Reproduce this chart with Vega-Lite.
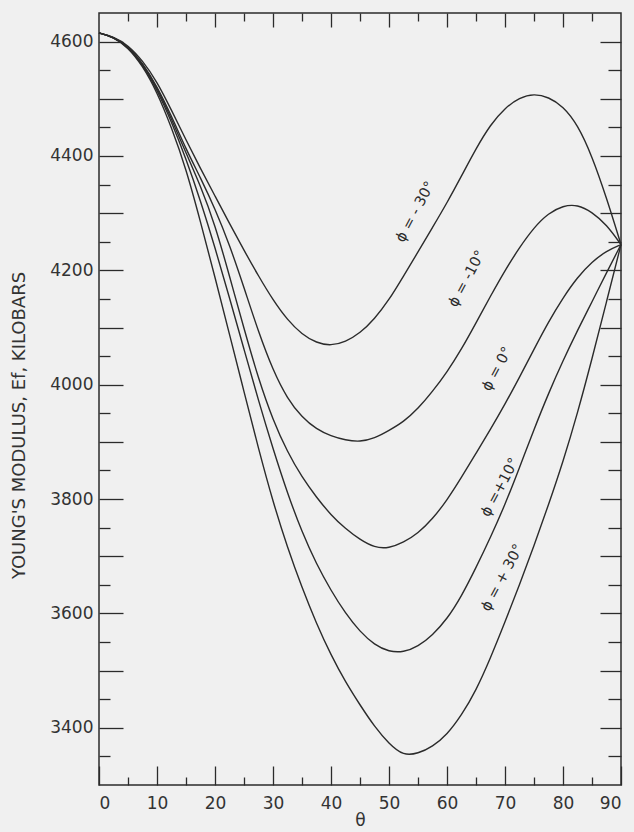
{
  "$schema": "https://vega.github.io/schema/vega-lite/v6.json",
  "width": 522,
  "height": 772,
  "autosize": {"type": "none"},
  "padding": {"left": 99, "top": 13, "right": 13, "bottom": 47},
  "background": "#f0f0f0",
  "config": {
    "view": {"stroke": "#2b2b2b", "strokeWidth": 1.5},
    "axis": {
      "grid": false,
      "domain": false,
      "tickColor": "#2b2b2b",
      "tickWidth": 1.3,
      "labelFont": "DejaVu Sans",
      "labelFontSize": 17,
      "labelColor": "#333333",
      "titleFont": "DejaVu Sans",
      "titleColor": "#333333",
      "titleFontWeight": "normal"
    }
  },
  "datasets": {
    "curves": [
      {"phi": "+30", "theta": 0, "E": 4615}, {"phi": "+30", "theta": 2.5, "E": 4608}, {"phi": "+30", "theta": 5, "E": 4590}, {"phi": "+30", "theta": 7.5, "E": 4558}, {"phi": "+30", "theta": 10, "E": 4512}, {"phi": "+30", "theta": 12.5, "E": 4450}, {"phi": "+30", "theta": 15, "E": 4378}, {"phi": "+30", "theta": 17.5, "E": 4285}, {"phi": "+30", "theta": 20, "E": 4188}, {"phi": "+30", "theta": 22.5, "E": 4088}, {"phi": "+30", "theta": 25, "E": 3988}, {"phi": "+30", "theta": 27.5, "E": 3888}, {"phi": "+30", "theta": 30, "E": 3795}, {"phi": "+30", "theta": 32.5, "E": 3715}, {"phi": "+30", "theta": 35, "E": 3645}, {"phi": "+30", "theta": 37.5, "E": 3582}, {"phi": "+30", "theta": 40, "E": 3527}, {"phi": "+30", "theta": 42.5, "E": 3480}, {"phi": "+30", "theta": 45, "E": 3440}, {"phi": "+30", "theta": 47.5, "E": 3402}, {"phi": "+30", "theta": 50, "E": 3372}, {"phi": "+30", "theta": 52.5, "E": 3351}, {"phi": "+30", "theta": 55, "E": 3355}, {"phi": "+30", "theta": 57.5, "E": 3367}, {"phi": "+30", "theta": 60, "E": 3388}, {"phi": "+30", "theta": 62.5, "E": 3422}, {"phi": "+30", "theta": 65, "E": 3465}, {"phi": "+30", "theta": 67.5, "E": 3522}, {"phi": "+30", "theta": 70, "E": 3585}, {"phi": "+30", "theta": 72.5, "E": 3650}, {"phi": "+30", "theta": 75, "E": 3718}, {"phi": "+30", "theta": 77.5, "E": 3790}, {"phi": "+30", "theta": 80, "E": 3865}, {"phi": "+30", "theta": 82.5, "E": 3950}, {"phi": "+30", "theta": 85, "E": 4045}, {"phi": "+30", "theta": 87.5, "E": 4145}, {"phi": "+30", "theta": 90, "E": 4245},
      {"phi": "+10", "theta": 0, "E": 4615}, {"phi": "+10", "theta": 2.5, "E": 4608}, {"phi": "+10", "theta": 5, "E": 4591}, {"phi": "+10", "theta": 7.5, "E": 4560}, {"phi": "+10", "theta": 10, "E": 4516}, {"phi": "+10", "theta": 12.5, "E": 4460}, {"phi": "+10", "theta": 15, "E": 4395}, {"phi": "+10", "theta": 17.5, "E": 4322}, {"phi": "+10", "theta": 20, "E": 4240}, {"phi": "+10", "theta": 22.5, "E": 4152}, {"phi": "+10", "theta": 25, "E": 4062}, {"phi": "+10", "theta": 27.5, "E": 3972}, {"phi": "+10", "theta": 30, "E": 3888}, {"phi": "+10", "theta": 32.5, "E": 3810}, {"phi": "+10", "theta": 35, "E": 3742}, {"phi": "+10", "theta": 37.5, "E": 3686}, {"phi": "+10", "theta": 40, "E": 3640}, {"phi": "+10", "theta": 42.5, "E": 3600}, {"phi": "+10", "theta": 45, "E": 3568}, {"phi": "+10", "theta": 47.5, "E": 3545}, {"phi": "+10", "theta": 50, "E": 3533}, {"phi": "+10", "theta": 52.5, "E": 3532}, {"phi": "+10", "theta": 55, "E": 3542}, {"phi": "+10", "theta": 57.5, "E": 3562}, {"phi": "+10", "theta": 60, "E": 3590}, {"phi": "+10", "theta": 62.5, "E": 3630}, {"phi": "+10", "theta": 65, "E": 3680}, {"phi": "+10", "theta": 67.5, "E": 3733}, {"phi": "+10", "theta": 70, "E": 3790}, {"phi": "+10", "theta": 72.5, "E": 3855}, {"phi": "+10", "theta": 75, "E": 3922}, {"phi": "+10", "theta": 77.5, "E": 3985}, {"phi": "+10", "theta": 80, "E": 4042}, {"phi": "+10", "theta": 82.5, "E": 4095}, {"phi": "+10", "theta": 85, "E": 4145}, {"phi": "+10", "theta": 87.5, "E": 4196}, {"phi": "+10", "theta": 90, "E": 4245},
      {"phi": "0", "theta": 0, "E": 4615}, {"phi": "0", "theta": 2.5, "E": 4608}, {"phi": "0", "theta": 5, "E": 4592}, {"phi": "0", "theta": 7.5, "E": 4562}, {"phi": "0", "theta": 10, "E": 4520}, {"phi": "0", "theta": 12.5, "E": 4465}, {"phi": "0", "theta": 15, "E": 4405}, {"phi": "0", "theta": 17.5, "E": 4348}, {"phi": "0", "theta": 20, "E": 4280}, {"phi": "0", "theta": 22.5, "E": 4190}, {"phi": "0", "theta": 25, "E": 4098}, {"phi": "0", "theta": 27.5, "E": 4010}, {"phi": "0", "theta": 30, "E": 3938}, {"phi": "0", "theta": 32.5, "E": 3882}, {"phi": "0", "theta": 35, "E": 3838}, {"phi": "0", "theta": 37.5, "E": 3803}, {"phi": "0", "theta": 40, "E": 3772}, {"phi": "0", "theta": 42.5, "E": 3748}, {"phi": "0", "theta": 45, "E": 3729}, {"phi": "0", "theta": 47.5, "E": 3715}, {"phi": "0", "theta": 50, "E": 3714}, {"phi": "0", "theta": 52.5, "E": 3724}, {"phi": "0", "theta": 55, "E": 3740}, {"phi": "0", "theta": 57.5, "E": 3765}, {"phi": "0", "theta": 60, "E": 3798}, {"phi": "0", "theta": 62.5, "E": 3838}, {"phi": "0", "theta": 65, "E": 3880}, {"phi": "0", "theta": 67.5, "E": 3922}, {"phi": "0", "theta": 70, "E": 3966}, {"phi": "0", "theta": 72.5, "E": 4013}, {"phi": "0", "theta": 75, "E": 4062}, {"phi": "0", "theta": 77.5, "E": 4110}, {"phi": "0", "theta": 80, "E": 4152}, {"phi": "0", "theta": 82.5, "E": 4188}, {"phi": "0", "theta": 85, "E": 4215}, {"phi": "0", "theta": 87.5, "E": 4234}, {"phi": "0", "theta": 90, "E": 4245},
      {"phi": "-10", "theta": 0, "E": 4615}, {"phi": "-10", "theta": 2.5, "E": 4608}, {"phi": "-10", "theta": 5, "E": 4592}, {"phi": "-10", "theta": 7.5, "E": 4563}, {"phi": "-10", "theta": 10, "E": 4522}, {"phi": "-10", "theta": 12.5, "E": 4470}, {"phi": "-10", "theta": 15, "E": 4412}, {"phi": "-10", "theta": 17.5, "E": 4362}, {"phi": "-10", "theta": 20, "E": 4308}, {"phi": "-10", "theta": 22.5, "E": 4245}, {"phi": "-10", "theta": 25, "E": 4170}, {"phi": "-10", "theta": 27.5, "E": 4092}, {"phi": "-10", "theta": 30, "E": 4025}, {"phi": "-10", "theta": 32.5, "E": 3975}, {"phi": "-10", "theta": 35, "E": 3943}, {"phi": "-10", "theta": 37.5, "E": 3922}, {"phi": "-10", "theta": 40, "E": 3910}, {"phi": "-10", "theta": 42.5, "E": 3903}, {"phi": "-10", "theta": 45, "E": 3900}, {"phi": "-10", "theta": 47.5, "E": 3906}, {"phi": "-10", "theta": 50, "E": 3920}, {"phi": "-10", "theta": 52.5, "E": 3935}, {"phi": "-10", "theta": 55, "E": 3958}, {"phi": "-10", "theta": 57.5, "E": 3988}, {"phi": "-10", "theta": 60, "E": 4022}, {"phi": "-10", "theta": 62.5, "E": 4062}, {"phi": "-10", "theta": 65, "E": 4108}, {"phi": "-10", "theta": 67.5, "E": 4155}, {"phi": "-10", "theta": 70, "E": 4200}, {"phi": "-10", "theta": 72.5, "E": 4240}, {"phi": "-10", "theta": 75, "E": 4275}, {"phi": "-10", "theta": 77.5, "E": 4300}, {"phi": "-10", "theta": 80, "E": 4313}, {"phi": "-10", "theta": 82.5, "E": 4315}, {"phi": "-10", "theta": 85, "E": 4302}, {"phi": "-10", "theta": 87.5, "E": 4280}, {"phi": "-10", "theta": 90, "E": 4245},
      {"phi": "-30", "theta": 0, "E": 4615}, {"phi": "-30", "theta": 2.5, "E": 4609}, {"phi": "-30", "theta": 5, "E": 4594}, {"phi": "-30", "theta": 7.5, "E": 4567}, {"phi": "-30", "theta": 10, "E": 4530}, {"phi": "-30", "theta": 12.5, "E": 4480}, {"phi": "-30", "theta": 15, "E": 4428}, {"phi": "-30", "theta": 17.5, "E": 4378}, {"phi": "-30", "theta": 20, "E": 4330}, {"phi": "-30", "theta": 22.5, "E": 4282}, {"phi": "-30", "theta": 25, "E": 4235}, {"phi": "-30", "theta": 27.5, "E": 4190}, {"phi": "-30", "theta": 30, "E": 4148}, {"phi": "-30", "theta": 32.5, "E": 4113}, {"phi": "-30", "theta": 35, "E": 4088}, {"phi": "-30", "theta": 37.5, "E": 4073}, {"phi": "-30", "theta": 40, "E": 4068}, {"phi": "-30", "theta": 42.5, "E": 4075}, {"phi": "-30", "theta": 45, "E": 4090}, {"phi": "-30", "theta": 47.5, "E": 4115}, {"phi": "-30", "theta": 50, "E": 4148}, {"phi": "-30", "theta": 52.5, "E": 4190}, {"phi": "-30", "theta": 55, "E": 4232}, {"phi": "-30", "theta": 57.5, "E": 4275}, {"phi": "-30", "theta": 60, "E": 4318}, {"phi": "-30", "theta": 62.5, "E": 4365}, {"phi": "-30", "theta": 65, "E": 4413}, {"phi": "-30", "theta": 67.5, "E": 4455}, {"phi": "-30", "theta": 70, "E": 4484}, {"phi": "-30", "theta": 72.5, "E": 4502}, {"phi": "-30", "theta": 75, "E": 4509}, {"phi": "-30", "theta": 77.5, "E": 4503}, {"phi": "-30", "theta": 80, "E": 4487}, {"phi": "-30", "theta": 82.5, "E": 4455}, {"phi": "-30", "theta": 85, "E": 4400}, {"phi": "-30", "theta": 87.5, "E": 4327}, {"phi": "-30", "theta": 90, "E": 4245}
    ],
    "labels": [
      {"theta": 54.6, "E": 4302, "label": "ϕ = - 30°"},
      {"theta": 63.5, "E": 4185, "label": "ϕ = -10°"},
      {"theta": 68.7, "E": 4027, "label": "ϕ = 0°"},
      {"theta": 69.2, "E": 3820, "label": "ϕ =+10°"},
      {"theta": 69.6, "E": 3662, "label": "ϕ = + 30°"}
    ]
  },
  "layer": [
    {
      "data": {"name": "curves"},
      "mark": {"type": "line", "interpolate": "basis", "color": "#2b2b2b", "strokeWidth": 1.4},
      "encoding": {
        "x": {
          "field": "theta", "type": "quantitative",
          "scale": {"domain": [0, 90], "nice": false, "zero": false},
          "axis": {
            "orient": "bottom", "values": [0, 10, 20, 30, 40, 50, 60, 70, 80, 90],
            "tickSize": -19, "labelPadding": 29, "format": "d",
            "title": "θ", "titleFontSize": 17, "titleY": 40, "titleBaseline": "alphabetic"
          }
        },
        "y": {
          "field": "E", "type": "quantitative",
          "scale": {"domain": [3300, 4650], "nice": false, "zero": false},
          "axis": {
            "orient": "left", "values": [3400, 3500, 3600, 3700, 3800, 3900, 4000, 4100, 4200, 4300, 4400, 4500, 4600],
            "tickSize": -24, "labelPadding": 30,
            "labelExpr": "datum.value % 200 === 0 ? format(datum.value, 'd') : ''",
            "title": "YOUNG'S MODULUS, Ef, KILOBARS", "titleFontSize": 18,
            "titleX": -80, "titleY": 412, "titleAlign": "center", "titleBaseline": "middle", "titleAngle": 270
          }
        },
        "detail": {"field": "phi"}
      }
    },
    {
      "data": {"name": "curves"},
      "mark": {"type": "point", "opacity": 0},
      "encoding": {
        "x": {"field": "theta", "type": "quantitative",
          "axis": {"orient": "bottom", "values": [5, 15, 25, 35, 45, 55, 65, 75, 85], "tickSize": -8, "labels": false, "title": null}},
        "y": {"field": "E", "type": "quantitative",
          "axis": {"orient": "left", "values": [3350, 3450, 3550, 3650, 3750, 3850, 3950, 4050, 4150, 4250, 4350, 4450, 4550], "tickSize": -11, "labels": false, "title": null}}
      }
    },
    {
      "data": {"name": "curves"},
      "mark": {"type": "point", "opacity": 0},
      "encoding": {
        "x": {"field": "theta", "type": "quantitative",
          "axis": {"orient": "top", "values": [10, 20, 30, 40, 50, 60, 70, 80], "tickSize": -14, "labels": false, "title": null}},
        "y": {"field": "E", "type": "quantitative",
          "axis": {"orient": "right", "values": [3400, 3500, 3600, 3700, 3800, 3900, 4000, 4100, 4200, 4300, 4400, 4500, 4600], "tickSize": -21, "labels": false, "title": null}}
      }
    },
    {
      "data": {"name": "curves"},
      "mark": {"type": "point", "opacity": 0},
      "encoding": {
        "x": {"field": "theta", "type": "quantitative",
          "axis": {"orient": "top", "values": [5, 15, 25, 35, 45, 55, 65, 75, 85], "tickSize": -8, "labels": false, "title": null}},
        "y": {"field": "E", "type": "quantitative",
          "axis": {"orient": "right", "values": [3350, 3450, 3550, 3650, 3750, 3850, 3950, 4050, 4150, 4250, 4350, 4450, 4550], "tickSize": -13, "labels": false, "title": null}}
      }
    },
    {
      "data": {"name": "labels"},
      "mark": {"type": "text", "angle": -62, "align": "center", "baseline": "middle", "font": "DejaVu Sans", "fontSize": 14.5, "color": "#2b2b2b"},
      "encoding": {
        "x": {"field": "theta", "type": "quantitative", "axis": null},
        "y": {"field": "E", "type": "quantitative", "axis": null},
        "text": {"field": "label"}
      }
    }
  ],
  "resolve": {"axis": {"x": "independent", "y": "independent"}}
}
